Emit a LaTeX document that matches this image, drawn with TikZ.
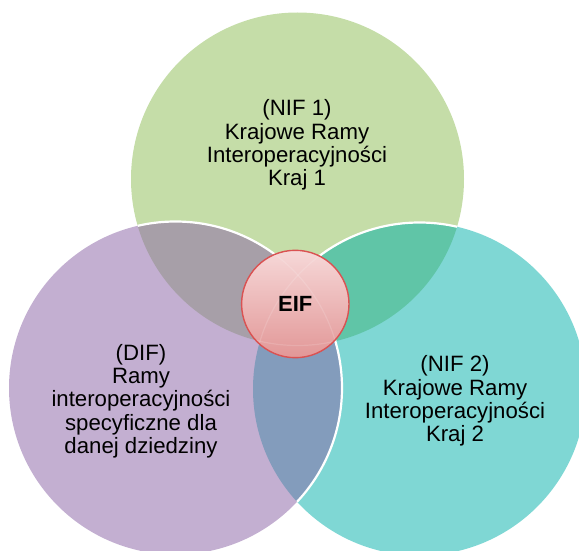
\documentclass[tikz,border=0pt]{standalone}
\usepackage{fontspec}
\setmainfont{Liberation Sans}
\begin{document}
\begin{tikzpicture}[x=1pt,y=-1pt,
  vennr/.style={radius=166.5pt},
  rim/.style={white,line width=2.2pt},
  label/.style={align=center,inner sep=0pt,text=black,
    font=\fontsize{22.2}{23.3}\selectfont},
  eiflabel/.style={circle,minimum size=107.4pt,inner sep=0pt,
    draw=eifred,line width=1.4pt,
    font=\bfseries\fontsize{22}{24}\selectfont}]
\definecolor{nifgreen}{HTML}{C5DDA8}
\definecolor{nifteal}{HTML}{7FD7D4}
\definecolor{difpurple}{HTML}{C3AFD1}
\definecolor{lensgray}{HTML}{A79FA8}
\definecolor{lensgreen}{HTML}{60C5A7}
\definecolor{lensblue}{HTML}{839CBC}
\definecolor{eiftop}{HTML}{F6D8D8}
\definecolor{eifbot}{HTML}{E29797}
\definecolor{eifred}{HTML}{DA5252}

\useasboundingbox (0,0) rectangle (579,551);
\clip (0,0) rectangle (579,551);

% circle centres
\coordinate (cg) at (297.5,179);
\coordinate (cp) at (175.5,388);
\coordinate (ct) at (419.5,389);
\coordinate (ce) at (295.3,304);

% main discs
\fill[nifgreen] (cg) circle[vennr];
\fill[nifteal] (ct) circle[vennr];
\fill[difpurple] (cp) circle[vennr];

% overlaps
\begin{scope}
  \clip (cg) circle[vennr];
  \fill[lensgray] (cp) circle[vennr];
  \fill[lensgreen] (ct) circle[vennr];
\end{scope}
\begin{scope}
  \clip (cp) circle[vennr];
  \fill[lensblue] (ct) circle[vennr];
\end{scope}

% white rims of the upper discs
\begin{scope}
  \clip (cg) circle[vennr];
  \draw[rim] (ct) circle[vennr];
  \draw[rim] (cp) circle[vennr];
\end{scope}
\begin{scope}
  \clip (ct) circle[vennr];
  \draw[rim] (cp) circle[vennr];
\end{scope}

% central EIF disc
\fill[top color=eiftop,bottom color=eifbot] (ce) circle[radius=53.7pt];
\begin{scope}
  \clip (ce) circle[radius=53.7pt];
  \draw[white,opacity=0.14,line width=1.2pt] (cg) circle[vennr];
  \draw[white,opacity=0.14,line width=1.2pt] (cp) circle[vennr];
  \draw[white,opacity=0.14,line width=1.2pt] (ct) circle[vennr];
\end{scope}
\node[eiflabel] (eif) at (ce) {EIF};

% texts
\node[label] (nif1) at (297,145)
  {(NIF 1)\\Krajowe Ramy\\Interoperacyjności\\Kraj 1};
\node[label] (dif) at (141,401)
  {(DIF)\\Ramy\\interoperacyjności\\specyficzne dla\\danej dziedziny};
\node[label] (nif2) at (455,401)
  {(NIF 2)\\Krajowe Ramy\\Interoperacyjności\\Kraj 2};
\end{tikzpicture}
\end{document}
